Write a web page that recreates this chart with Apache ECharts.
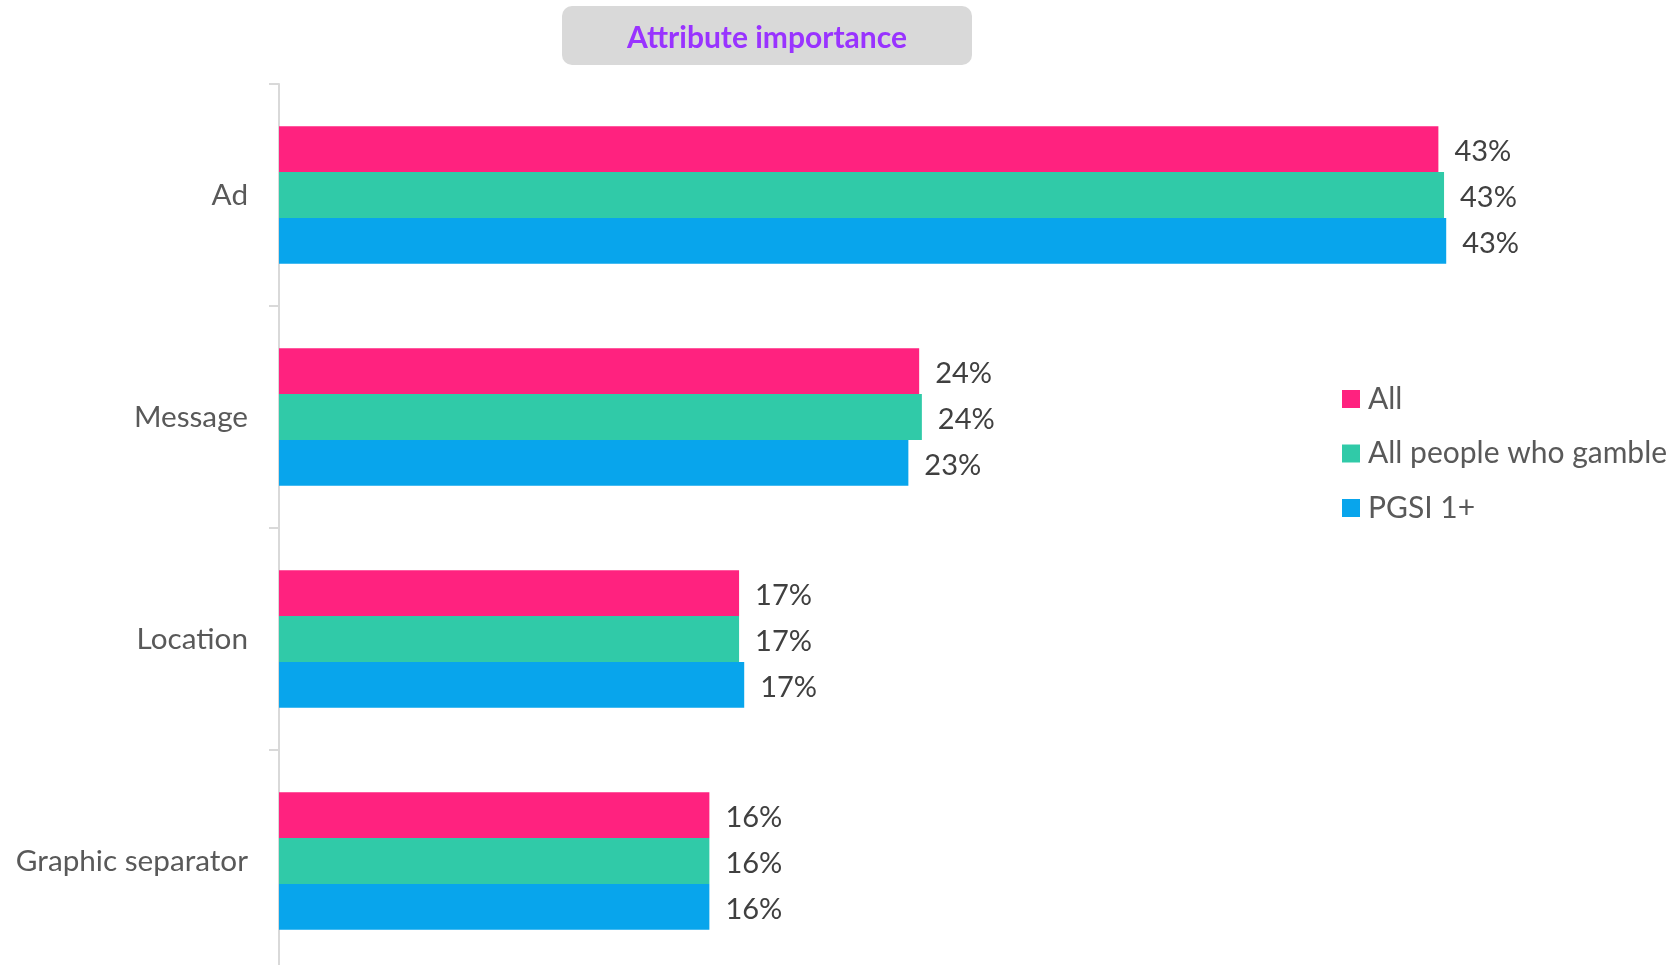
<!DOCTYPE html>
<html>
<head>
<meta charset="utf-8">
<title>Attribute importance</title>
<script src="https://cdn.jsdelivr.net/npm/echarts@6/dist/echarts.min.js"></script>
<style>
  html, body { margin: 0; padding: 0; background: #ffffff; }
  #chart { width: 1667px; height: 965px; }
</style>
</head>
<body>
<div id="chart"></div>
<script>
// Attributes, top to bottom
const categories = ['Ad', 'Message', 'Location', 'Graphic separator'];

// Share of importance per attribute (fractions)
const seriesNames = ['All', 'All people who gamble', 'PGSI 1+'];
const allValues = [0.4294, 0.2371, 0.1704, 0.1594];
const gamblerValues = [0.4315, 0.2381, 0.1704, 0.1594];
const pgsiValues = [0.4323, 0.2331, 0.1723, 0.1594];
const seriesColors = ['#FF227F', '#30CAA8', '#08A5EC'];

const FONT = 'Lato, "Open Sans", sans-serif';
const chart = echarts.init(document.getElementById('chart'), null, { renderer: 'canvas' });

const pctLabel = {
  show: true,
  position: 'right',
  distance: 16,
  offset: [0, 3],
  color: '#404040',
  fontFamily: FONT,
  fontSize: 29,
  formatter: p => Math.round(p.value * 100) + '%'
};

function barSeries(name, values, color) {
  return {
    name: name,
    type: 'bar',
    data: values,
    itemStyle: { color: color },
    barGap: '0%',
    barCategoryGap: '38%',
    label: pctLabel,
    animation: false
  };
}

chart.setOption({
  animation: false,
  backgroundColor: '#ffffff',
  graphic: [{
    type: 'rect',
    z: -1,
    shape: { x: 562, y: 6, width: 410, height: 59, r: 10 },
    style: { fill: '#D9D9D9' }
  }],
  title: {
    text: 'Attribute importance',
    left: 767,
    top: 19,
    textAlign: 'center',
    padding: 0,
    textStyle: {
      color: '#9933FF',
      fontFamily: FONT,
      fontWeight: 'bold',
      fontSize: 30,
      lineHeight: 38
    }
  },
  legend: {
    orient: 'vertical',
    left: 1342,
    top: 380,
    padding: 0,
    itemWidth: 18,
    itemHeight: 18,
    itemGap: 16.5,
    icon: 'rect',
    textStyle: {
      color: '#595959',
      fontFamily: FONT,
      fontSize: 30,
      lineHeight: 38,
      padding: [0, 0, 0, 3]
    },
    data: seriesNames
  },
  grid: {
    left: 279,
    top: 84,
    width: 1350,
    height: 888,
    outerBoundsMode: 'none',
    containLabel: false
  },
  xAxis: {
    type: 'value',
    min: 0,
    max: 0.5,
    show: false,
    splitLine: { show: false }
  },
  yAxis: {
    type: 'category',
    data: categories,
    inverse: true,
    axisLine: { show: true, lineStyle: { color: '#D9D9D9', width: 2 } },
    axisTick: { show: true, length: 10, lineStyle: { color: '#D9D9D9', width: 2 } },
    axisLabel: {
      color: '#595959',
      fontFamily: FONT,
      fontSize: 29.7,
      margin: 31,
      padding: [4, 0, 0, 0]
    }
  },
  series: [
    barSeries(seriesNames[0], allValues, seriesColors[0]),
    barSeries(seriesNames[1], gamblerValues, seriesColors[1]),
    barSeries(seriesNames[2], pgsiValues, seriesColors[2])
  ]
});
</script>
</body>
</html>
